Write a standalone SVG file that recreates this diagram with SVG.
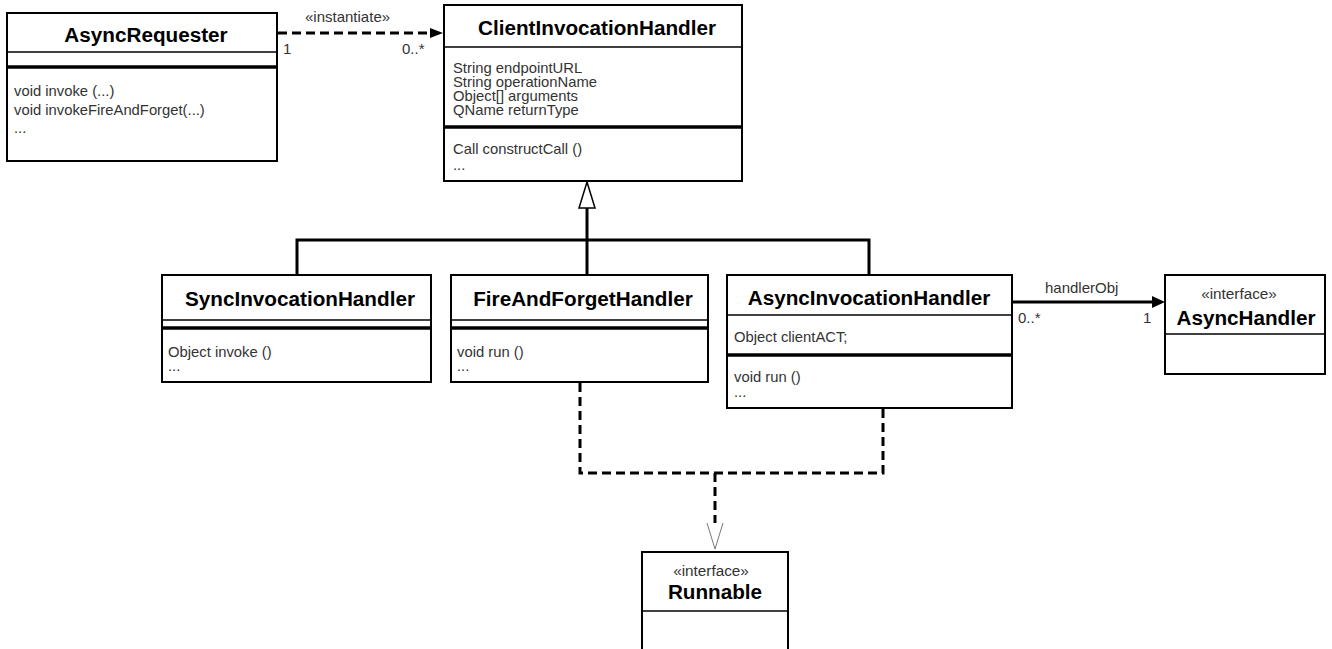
<svg xmlns="http://www.w3.org/2000/svg" width="1332" height="649" viewBox="0 0 1332 649">
<style>
.box{fill:#fff;stroke:#000;stroke-width:2}
.sep{stroke:#000;stroke-width:1.5}
.tsep{stroke:#000;stroke-width:3.5}
.title{font-family:"Liberation Sans",Arial,sans-serif;font-weight:bold;font-size:20.7px;fill:#000;text-anchor:middle}
.mem{font-family:"Liberation Sans",Arial,sans-serif;font-size:14.8px;fill:#333}
.st{font-family:"Liberation Sans",Arial,sans-serif;font-size:15.3px;fill:#333;text-anchor:middle}
.lbl{font-family:"Liberation Sans",Arial,sans-serif;font-size:15px;fill:#333}
.solid{fill:none;stroke:#000;stroke-width:3}
.dash{fill:none;stroke:#000;stroke-width:3;stroke-dasharray:9 5}
</style>
<rect width="1332" height="649" fill="#fff"/>

<g id="connectors">
<line class="dash" x1="278" y1="33" x2="432" y2="33"/>
<path d="M430,28 L443,33 L430,38 Z" fill="#000"/>
<text class="lbl" x="305" y="22">«instantiate»</text>
<text class="lbl" x="283" y="54">1</text>
<text class="lbl" x="402" y="54">0..*</text>

<polyline class="solid" points="297,275 297,240 869,240 869,275"/>
<line class="solid" x1="587" y1="275" x2="587" y2="208"/>
<path d="M587,182 L595,208 L579,208 Z" fill="#fff" stroke="#000" stroke-width="1.5"/>

<line class="solid" x1="1012" y1="302" x2="1153" y2="302"/>
<path d="M1152,296 L1165,302 L1152,308 Z" fill="#000"/>
<text class="lbl" x="1045" y="293">handlerObj</text>
<text class="lbl" x="1018" y="323">0..*</text>
<text class="lbl" x="1143" y="323">1</text>

<polyline class="dash" points="580,383 580,473 883,473 883,409"/>
<line class="dash" x1="715" y1="473" x2="715" y2="523"/>
<path d="M707,523 L715,549 L723,523" fill="#fff" stroke="#777" stroke-width="1"/>
</g>

<g id="AsyncRequester">
<rect class="box" x="7" y="13" width="270" height="148"/>
<line class="sep" x1="7" y1="52" x2="277" y2="52"/>
<line class="tsep" x1="7" y1="67" x2="277" y2="67"/>
<text class="title" x="146" y="42">AsyncRequester</text>
<text class="mem" x="14" y="96">void invoke (...)</text>
<text class="mem" x="14" y="115">void invokeFireAndForget(...)</text>
<text class="mem" x="14" y="133">...</text>
</g>

<g id="ClientInvocationHandler">
<rect class="box" x="444" y="5" width="298" height="176"/>
<line class="sep" x1="444" y1="47" x2="742" y2="47"/>
<line class="tsep" x1="444" y1="127" x2="742" y2="127"/>
<text class="title" x="597" y="35">ClientInvocationHandler</text>
<text class="mem" x="453" y="72.5">String endpointURL</text>
<text class="mem" x="453" y="86.5">String operationName</text>
<text class="mem" x="453" y="100.5">Object[] arguments</text>
<text class="mem" x="453" y="114.5">QName returnType</text>
<text class="mem" x="453" y="154">Call constructCall ()</text>
<text class="mem" x="453" y="170">...</text>
</g>

<g id="SyncInvocationHandler">
<rect class="box" x="162" y="275" width="269" height="107"/>
<line class="sep" x1="162" y1="320" x2="431" y2="320"/>
<line class="tsep" x1="162" y1="328" x2="431" y2="328"/>
<text class="title" x="300" y="306">SyncInvocationHandler</text>
<text class="mem" x="168" y="357">Object invoke ()</text>
<text class="mem" x="168" y="371">...</text>
</g>

<g id="FireAndForgetHandler">
<rect class="box" x="451" y="275" width="257" height="107"/>
<line class="sep" x1="451" y1="320" x2="708" y2="320"/>
<line class="tsep" x1="451" y1="328" x2="708" y2="328"/>
<text class="title" x="583" y="306">FireAndForgetHandler</text>
<text class="mem" x="457" y="357">void run ()</text>
<text class="mem" x="457" y="371">...</text>
</g>

<g id="AsyncInvocationHandler">
<rect class="box" x="727" y="275" width="285" height="133"/>
<line class="sep" x1="727" y1="315" x2="1012" y2="315"/>
<line class="tsep" x1="727" y1="355" x2="1012" y2="355"/>
<text class="title" x="869" y="305">AsyncInvocationHandler</text>
<text class="mem" x="734" y="342">Object clientACT;</text>
<text class="mem" x="734" y="382">void run ()</text>
<text class="mem" x="734" y="397">...</text>
</g>

<g id="AsyncHandler">
<rect class="box" x="1165" y="275" width="160" height="99"/>
<line class="sep" x1="1165" y1="334" x2="1325" y2="334"/>
<text class="st" x="1239" y="299">«interface»</text>
<text class="title" x="1246" y="325">AsyncHandler</text>
</g>

<g id="Runnable">
<rect class="box" x="642" y="552" width="146" height="110"/>
<line class="sep" x1="642" y1="611" x2="788" y2="611"/>
<text class="st" x="711" y="576">«interface»</text>
<text class="title" x="715" y="599">Runnable</text>
</g>
</svg>
